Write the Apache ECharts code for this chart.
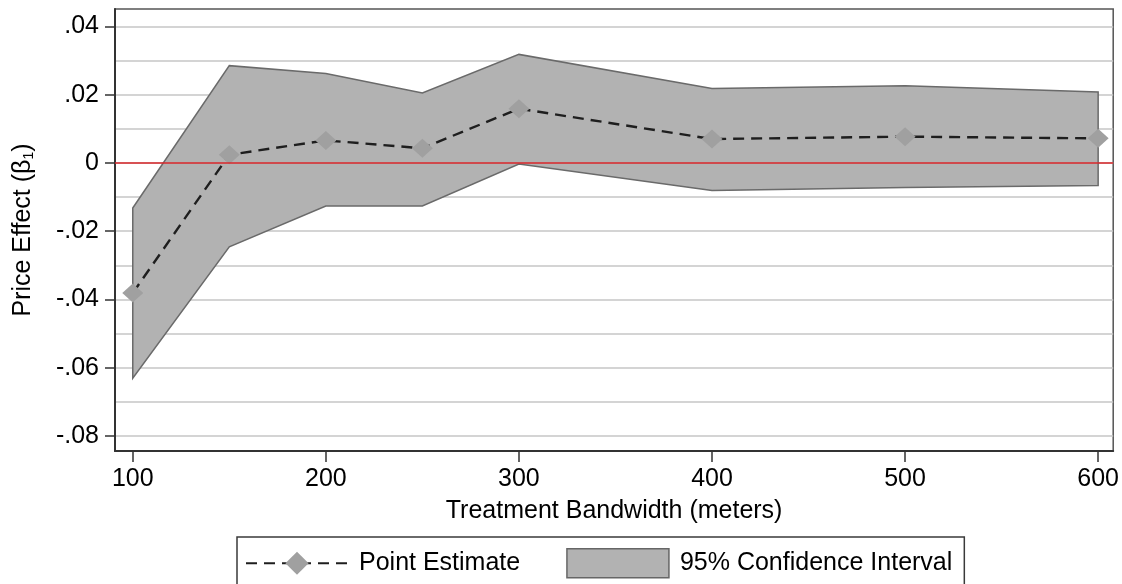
<!DOCTYPE html>
<html>
<head>
<meta charset="utf-8">
<script src="https://cdn.jsdelivr.net/npm/echarts@6/dist/echarts.min.js"></script>
<style>
  html, body { margin: 0; padding: 0; background: #fff; }
  #chart { width: 1122px; height: 584px; }
</style>
</head>
<body>
<div id="chart"></div>
<script>
// bandwidths (meters)
const bandwidths = [100, 150, 200, 250, 300, 400, 500, 600]
// point estimates of beta1
const pointEstimate = [-0.0381, 0.0024, 0.0066, 0.0043, 0.0159, 0.0070, 0.0077, 0.0072]
// 95% CI bounds
const ciUpper = [-0.0132, 0.0285, 0.0262, 0.0205, 0.0318, 0.0218, 0.0226, 0.0208]
const ciLower = [-0.0631, -0.0246, -0.0126, -0.0126, -0.0003, -0.0081, -0.0072, -0.0066]

// tick labels
const xTicks = [100, 200, 300, 400, 500, 600]
const yTicks = [-0.08, -0.06, -0.04, -0.02, 0, 0.02, 0.04]
const yTickLabels = ['-.08', '-.06', '-.04', '-.02', '0', '.02', '.04']
const yGrid = [-0.08, -0.07, -0.06, -0.05, -0.04, -0.03, -0.02, -0.01, 0, 0.01, 0.02, 0.03, 0.04]

const chart = echarts.init(document.getElementById('chart'))
const font = 'Liberation Sans, Arial, Helvetica, sans-serif'
const yMin = -0.0844
const yMax = 0.0451

const option = {
  animation: false,
  textStyle: { fontFamily: font, color: '#000' },
  grid: {
    left: 115, right: 8, top: 9, bottom: 133,
    show: true, borderColor: '#555', borderWidth: 1.5
  },
  legend: {
    left: 237, top: 537,
    padding: [11, 12, 11, 8],
    backgroundColor: '#fff',
    borderColor: '#3a3a3a',
    borderWidth: 1.5,
    itemWidth: 102,
    itemHeight: 29,
    itemGap: 46,
    textStyle: { fontSize: 25, color: '#000', fontFamily: font, padding: [0, 0, 0, 6] },
    data: [
      { name: 'Point Estimate' },
      {
        name: '95% Confidence Interval',
        icon: 'rect',
        itemStyle: { color: '#b2b2b2', borderColor: '#666', borderWidth: 1.5 }
      }
    ]
  },
  xAxis: {
    type: 'value',
    min: 90.8,
    max: 607.8,
    name: 'Treatment Bandwidth (meters)',
    nameLocation: 'middle',
    nameGap: 48,
    nameTextStyle: { fontSize: 25, color: '#000', fontFamily: font },
    axisLine: { onZero: false, lineStyle: { color: '#333', width: 2 } },
    axisTick: { length: 11, lineStyle: { color: '#333', width: 1.5 }, customValues: xTicks },
    axisLabel: { fontSize: 25, color: '#000', margin: 16, customValues: xTicks },
    splitLine: { show: false }
  },
  yAxis: [
    {
      type: 'value',
      min: yMin,
      max: yMax,
      name: '{a|Price Effect (β}{s|1}{a|)}',
      nameLocation: 'middle',
      nameGap: 79,
      nameTextStyle: {
        fontFamily: font,
        rich: {
          a: { fontSize: 25, color: '#000', fontFamily: font },
          s: { fontSize: 14, color: '#000', fontFamily: font, padding: [11, 0, 0, 0] }
        }
      },
      axisLine: { show: true, onZero: false, lineStyle: { color: '#333', width: 2 } },
      axisTick: { show: true, length: 10, lineStyle: { color: '#333', width: 1.5 }, customValues: yTicks },
      axisLabel: {
        fontSize: 25, color: '#000', margin: 16,
        customValues: yTicks,
        formatter: v => {
          const i = yTicks.findIndex(t => Math.abs(t - v) < 1e-9)
          return i >= 0 ? yTickLabels[i] : ''
        }
      },
      splitLine: { show: false }
    },
    {
      type: 'value',
      min: yMin,
      max: yMax,
      position: 'left',
      axisLine: { show: false },
      axisTick: { show: false, customValues: yGrid },
      axisLabel: { show: false },
      splitLine: { show: true, lineStyle: { color: '#c6c6c6', width: 1.5 } }
    }
  ],
  series: [
    {
      name: 'zero',
      type: 'line',
      data: [],
      z: 1,
      silent: true,
      markLine: {
        silent: true,
        symbol: 'none',
        label: { show: false },
        lineStyle: { color: '#d8262a', width: 1.5, type: 'solid' },
        data: [{ yAxis: 0 }]
      }
    },
    {
      name: '95% Confidence Interval',
      type: 'custom',
      z: 2,
      itemStyle: { color: '#b2b2b2' },
      data: bandwidths.map((x, i) => [x, ciLower[i], ciUpper[i]]),
      renderItem: (params, api) => {
        if (params.dataIndex !== 0) return
        const pts = []
        bandwidths.forEach((x, i) => pts.push(api.coord([x, ciUpper[i]])))
        for (let i = bandwidths.length - 1; i >= 0; i--) pts.push(api.coord([bandwidths[i], ciLower[i]]))
        return {
          type: 'polygon',
          shape: { points: pts },
          style: { fill: '#b2b2b2', stroke: '#6a6a6a', lineWidth: 1.5 }
        }
      }
    },
    {
      name: 'Point Estimate',
      type: 'line',
      z: 3,
      data: bandwidths.map((x, i) => [x, pointEstimate[i]]),
      symbol: 'diamond',
      symbolSize: [21, 19],
      itemStyle: { color: '#a0a0a0' },
      lineStyle: { color: '#1e1e1e', width: 2.4, type: [11, 7] }
    }
  ]
}
chart.setOption(option)
</script>
</body>
</html>
